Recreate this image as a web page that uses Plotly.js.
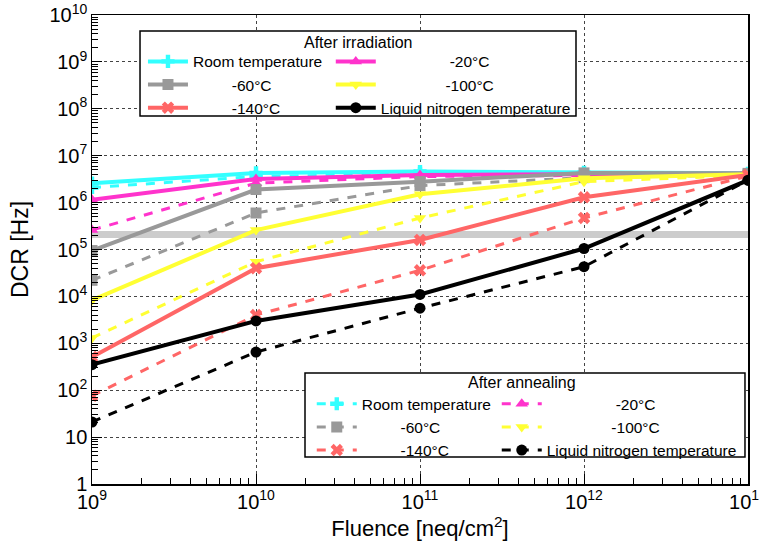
<!DOCTYPE html>
<html>
<head>
<meta charset="utf-8">
<script src="https://cdn.plot.ly/plotly-3.0.1.min.js"></script>
<style>html,body{margin:0;padding:0;background:#fff;}#chart{width:759px;height:543px;}</style>
</head>
<body>
<div id="chart"></div>
<script>
// Data
const fluence = [1e9, 1e10, 1e11, 1e12, 1e13];
const seriesNames = ["Room temperature", "-20\u00b0C", "-60\u00b0C", "-100\u00b0C", "-140\u00b0C", "Liquid nitrogen temperature"];
const irrRoom  = [2.6e6, 4.3e6, 4.6e6, 4.4e6, 4.2e6];
const irrM20   = [1.15e6, 3.2e6, 3.9e6, 4.0e6, 4.1e6];
const irrM60   = [9.5e4, 1.9e6, 2.8e6, 4.3e6, 4.2e6];
const irrM100  = [8.3e3, 2.6e5, 1.5e6, 3.3e6, 4.0e6];
const irrM140  = [5.1e2, 4.0e4, 1.6e5, 1.3e6, 3.9e6];
const irrLN2   = [3.5e2, 3.0e3, 1.1e4, 1.05e5, 3.0e6];
const annRoom  = [2.1e6, 3.6e6, 4.1e6, 4.0e6, 4.0e6];
const annM20   = [2.6e5, 2.6e6, 3.6e6, 3.8e6, 4.0e6];
const annM60   = [2.2e4, 6.0e5, 2.3e6, 3.4e6, 3.9e6];
const annM100  = [1.3e3, 5.5e4, 4.7e5, 2.8e6, 3.8e6];
const annM140  = [7.6e1, 4.0e3, 3.6e4, 4.7e5, 3.7e6];
const annLN2   = [2.1e1, 6.5e2, 5.6e3, 4.3e4, 3.0e6];
const bandX = [1e9, 1e13];
const bandY = [2.1e5, 2.1e5];
const legendTitles = ["After irradiation", "After annealing"];

const colors = ["#33ffff", "#ff33cc", "#999999", "#ffff33", "#ff6666", "#000000"];
const symbols = ["cross", "triangle-up", "square", "triangle-down", "x", "circle"];
// leading no-break spaces roughly centre the short labels in their legend column
const pads = [0, 16, 9, 15, 9, 0];
const irr = [irrRoom, irrM20, irrM60, irrM100, irrM140, irrLN2];
const ann = [annRoom, annM20, annM60, annM100, annM140, annLN2];
const label = i => "\u00a0".repeat(pads[i]) + seriesNames[i];

const traces = [{
  x: bandX, y: bandY, mode: "lines", showlegend: false, hoverinfo: "skip",
  line: {color: "#cccccc", width: 7}
}];
for (let i = 0; i < 6; i++) {
  traces.push({
    x: fluence, y: ann[i], name: label(i), mode: "lines+markers",
    legend: (i % 2 === 0) ? "legend3" : "legend4",
    line: {color: colors[i], width: 3, dash: "dash"},
    marker: {color: colors[i], symbol: symbols[i], size: 11}
  });
}
for (let i = 0; i < 6; i++) {
  traces.push({
    x: fluence, y: irr[i], name: label(i), mode: "lines+markers",
    legend: (i % 2 === 0) ? "legend" : "legend2",
    line: {color: colors[i], width: 4},
    marker: {color: colors[i], symbol: symbols[i], size: 11}
  });
}

const font = "Liberation Sans, Arial, sans-serif";
const axisCommon = {
  type: "log", dtick: 1, exponentformat: "power",
  ticks: "inside", ticklen: 10, tickcolor: "#000", tickwidth: 1,
  showline: true, linecolor: "#000", linewidth: 1.5, mirror: true,
  showgrid: true, gridcolor: "#444", griddash: "dot", gridwidth: 1,
  zeroline: false, automargin: false, ticklabeloverflow: "allow",
  minor: {ticks: "inside", ticklen: 6, tickcolor: "#000", showgrid: false},
  tickfont: {size: 16}
};
function leg(x, y) {
  return {
    x: x, y: y, xanchor: "left", yanchor: "top", orientation: "v",
    bgcolor: "rgba(0,0,0,0)", borderwidth: 0, font: {size: 15.5},
    traceorder: "normal", tracegroupgap: 0, itemwidth: 40
  };
}
const layout = {
  width: 759, height: 543,
  margin: {l: 92, r: 11, t: 15, b: 59},
  paper_bgcolor: "#fff", plot_bgcolor: "#fff",
  font: {family: font, color: "#000", size: 15},
  xaxis: Object.assign({}, axisCommon, {
    range: [9, 13],
    title: {text: "Fluence [neq/cm<sup>2</sup>]", font: {size: 22}, standoff: 6}
  }),
  yaxis: Object.assign({}, axisCommon, {
    range: [0, 10],
    title: {text: "DCR [Hz]", font: {size: 23}, standoff: 14}
  }),
  legend: leg(0.0777, 0.9364),
  legend2: leg(0.364, 0.9364),
  legend3: leg(0.335, 0.2064),
  legend4: leg(0.617, 0.2064),
  shapes: [
    {type: "rect", xref: "paper", yref: "paper", x0: 0.0732, x1: 0.7378, y0: 0.7846, y1: 0.9659,
     fillcolor: "#fff", line: {color: "#000", width: 1.5}, layer: "above"},
    {type: "rect", xref: "paper", yref: "paper", x0: 0.3247, x1: 0.9954, y0: 0.0576, y1: 0.2367,
     fillcolor: "#fff", line: {color: "#000", width: 1.5}, layer: "above"}
  ],
  annotations: [
    {text: legendTitles[0], xref: "paper", yref: "paper", x: 0.4055, y: 0.9424,
     xanchor: "center", yanchor: "middle", showarrow: false, font: {size: 16}},
    {text: legendTitles[1], xref: "paper", yref: "paper", x: 0.6555, y: 0.2154,
     xanchor: "center", yanchor: "middle", showarrow: false, font: {size: 16}}
  ],
  showlegend: true
};
Plotly.newPlot("chart", traces, layout, {displayModeBar: false, staticPlot: true});
</script>
</body>
</html>
